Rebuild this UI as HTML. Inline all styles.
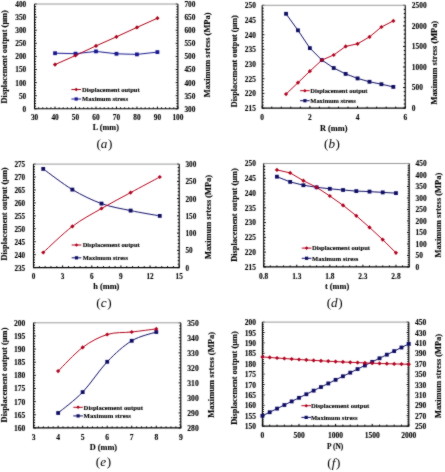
<!DOCTYPE html>
<html><head><meta charset="utf-8"><style>
html,body{margin:0;padding:0;background:#fff;}
svg{display:block;will-change:transform;}
</style></head><body>
<svg width="445" height="472" viewBox="0 0 445 472">
<defs><filter id="bl" x="0" y="0" width="445" height="472" filterUnits="userSpaceOnUse"><feConvolveMatrix order="3" kernelMatrix="1 2 1 2 20 2 1 2 1" edgeMode="duplicate"/></filter></defs>
<rect width="445" height="472" fill="#fff"/>
<g filter="url(#bl)">
<path d="M34.55,108.8h2.2 M34.55,106.18h1.5 M34.55,103.56h1.5 M34.55,100.94h1.5 M34.55,98.32h1.5 M34.55,95.7h2.2 M34.55,93.09h1.5 M34.55,90.47h1.5 M34.55,87.85h1.5 M34.55,85.23h1.5 M34.55,82.61h2.2 M34.55,79.99h1.5 M34.55,77.37h1.5 M34.55,74.75h1.5 M34.55,72.13h1.5 M34.55,69.52h2.2 M34.55,66.9h1.5 M34.55,64.28h1.5 M34.55,61.66h1.5 M34.55,59.04h1.5 M34.55,56.42h2.2 M34.55,53.8h1.5 M34.55,51.18h1.5 M34.55,48.56h1.5 M34.55,45.94h1.5 M34.55,43.33h2.2 M34.55,40.71h1.5 M34.55,38.09h1.5 M34.55,35.47h1.5 M34.55,32.85h1.5 M34.55,30.23h2.2 M34.55,27.61h1.5 M34.55,24.99h1.5 M34.55,22.37h1.5 M34.55,19.75h1.5 M34.55,17.13h2.2 M34.55,14.52h1.5 M34.55,11.9h1.5 M34.55,9.28h1.5 M34.55,6.66h1.5 M34.55,4.04h2.2 M177.9,108.8h-2.2 M177.9,106.18h-1.5 M177.9,103.56h-1.5 M177.9,100.94h-1.5 M177.9,98.32h-1.5 M177.9,95.7h-2.2 M177.9,93.09h-1.5 M177.9,90.47h-1.5 M177.9,87.85h-1.5 M177.9,85.23h-1.5 M177.9,82.61h-2.2 M177.9,79.99h-1.5 M177.9,77.37h-1.5 M177.9,74.75h-1.5 M177.9,72.13h-1.5 M177.9,69.52h-2.2 M177.9,66.9h-1.5 M177.9,64.28h-1.5 M177.9,61.66h-1.5 M177.9,59.04h-1.5 M177.9,56.42h-2.2 M177.9,53.8h-1.5 M177.9,51.18h-1.5 M177.9,48.56h-1.5 M177.9,45.94h-1.5 M177.9,43.33h-2.2 M177.9,40.71h-1.5 M177.9,38.09h-1.5 M177.9,35.47h-1.5 M177.9,32.85h-1.5 M177.9,30.23h-2.2 M177.9,27.61h-1.5 M177.9,24.99h-1.5 M177.9,22.37h-1.5 M177.9,19.75h-1.5 M177.9,17.13h-2.2 M177.9,14.52h-1.5 M177.9,11.9h-1.5 M177.9,9.28h-1.5 M177.9,6.66h-1.5 M177.9,4.04h-2.2 M34.55,108.8v-2.2 M38.65,108.8v-1.5 M42.74,108.8v-1.5 M46.84,108.8v-1.5 M50.93,108.8v-1.5 M55.03,108.8v-2.2 M59.12,108.8v-1.5 M63.22,108.8v-1.5 M67.32,108.8v-1.5 M71.41,108.8v-1.5 M75.51,108.8v-2.2 M79.6,108.8v-1.5 M83.7,108.8v-1.5 M87.79,108.8v-1.5 M91.89,108.8v-1.5 M95.99,108.8v-2.2 M100.08,108.8v-1.5 M104.18,108.8v-1.5 M108.27,108.8v-1.5 M112.37,108.8v-1.5 M116.46,108.8v-2.2 M120.56,108.8v-1.5 M124.66,108.8v-1.5 M128.75,108.8v-1.5 M132.85,108.8v-1.5 M136.94,108.8v-2.2 M141.04,108.8v-1.5 M145.13,108.8v-1.5 M149.23,108.8v-1.5 M153.33,108.8v-1.5 M157.42,108.8v-2.2 M161.52,108.8v-1.5 M165.61,108.8v-1.5 M169.71,108.8v-1.5 M173.8,108.8v-1.5 M177.9,108.8v-2.2" stroke="#000" stroke-width="1.0" fill="none"/>
<path d="M34.55,4.04H177.9" stroke="#999" stroke-width="1" fill="none"/>
<path d="M34.55,4.04V108.8H177.9V4.04" stroke="#000" stroke-width="1.1" fill="none"/>
<text transform="translate(26.2,111.7) scale(1,1.0)" text-anchor="end" style="font-family:'Liberation Serif',serif;font-weight:bold;font-size:7.3px;stroke:#000;stroke-width:0.12px">0</text>
<text transform="translate(26.2,98.61) scale(1,1.0)" text-anchor="end" style="font-family:'Liberation Serif',serif;font-weight:bold;font-size:7.3px;stroke:#000;stroke-width:0.12px">50</text>
<text transform="translate(26.2,85.51) scale(1,1.0)" text-anchor="end" style="font-family:'Liberation Serif',serif;font-weight:bold;font-size:7.3px;stroke:#000;stroke-width:0.12px">100</text>
<text transform="translate(26.2,72.42) scale(1,1.0)" text-anchor="end" style="font-family:'Liberation Serif',serif;font-weight:bold;font-size:7.3px;stroke:#000;stroke-width:0.12px">150</text>
<text transform="translate(26.2,59.32) scale(1,1.0)" text-anchor="end" style="font-family:'Liberation Serif',serif;font-weight:bold;font-size:7.3px;stroke:#000;stroke-width:0.12px">200</text>
<text transform="translate(26.2,46.23) scale(1,1.0)" text-anchor="end" style="font-family:'Liberation Serif',serif;font-weight:bold;font-size:7.3px;stroke:#000;stroke-width:0.12px">250</text>
<text transform="translate(26.2,33.13) scale(1,1.0)" text-anchor="end" style="font-family:'Liberation Serif',serif;font-weight:bold;font-size:7.3px;stroke:#000;stroke-width:0.12px">300</text>
<text transform="translate(26.2,20.03) scale(1,1.0)" text-anchor="end" style="font-family:'Liberation Serif',serif;font-weight:bold;font-size:7.3px;stroke:#000;stroke-width:0.12px">350</text>
<text transform="translate(26.2,6.94) scale(1,1.0)" text-anchor="end" style="font-family:'Liberation Serif',serif;font-weight:bold;font-size:7.3px;stroke:#000;stroke-width:0.12px">400</text>
<text transform="translate(184.4,111.7) scale(1,1.0)" text-anchor="start" style="font-family:'Liberation Serif',serif;font-weight:bold;font-size:7.3px;stroke:#000;stroke-width:0.12px">300</text>
<text transform="translate(184.4,98.61) scale(1,1.0)" text-anchor="start" style="font-family:'Liberation Serif',serif;font-weight:bold;font-size:7.3px;stroke:#000;stroke-width:0.12px">350</text>
<text transform="translate(184.4,85.51) scale(1,1.0)" text-anchor="start" style="font-family:'Liberation Serif',serif;font-weight:bold;font-size:7.3px;stroke:#000;stroke-width:0.12px">400</text>
<text transform="translate(184.4,72.42) scale(1,1.0)" text-anchor="start" style="font-family:'Liberation Serif',serif;font-weight:bold;font-size:7.3px;stroke:#000;stroke-width:0.12px">450</text>
<text transform="translate(184.4,59.32) scale(1,1.0)" text-anchor="start" style="font-family:'Liberation Serif',serif;font-weight:bold;font-size:7.3px;stroke:#000;stroke-width:0.12px">500</text>
<text transform="translate(184.4,46.23) scale(1,1.0)" text-anchor="start" style="font-family:'Liberation Serif',serif;font-weight:bold;font-size:7.3px;stroke:#000;stroke-width:0.12px">550</text>
<text transform="translate(184.4,33.13) scale(1,1.0)" text-anchor="start" style="font-family:'Liberation Serif',serif;font-weight:bold;font-size:7.3px;stroke:#000;stroke-width:0.12px">600</text>
<text transform="translate(184.4,20.03) scale(1,1.0)" text-anchor="start" style="font-family:'Liberation Serif',serif;font-weight:bold;font-size:7.3px;stroke:#000;stroke-width:0.12px">650</text>
<text transform="translate(184.4,6.94) scale(1,1.0)" text-anchor="start" style="font-family:'Liberation Serif',serif;font-weight:bold;font-size:7.3px;stroke:#000;stroke-width:0.12px">700</text>
<text transform="translate(34.55,120.2) scale(1,1.0)" text-anchor="middle" style="font-family:'Liberation Serif',serif;font-weight:bold;font-size:7.3px;stroke:#000;stroke-width:0.12px">30</text>
<text transform="translate(55.03,120.2) scale(1,1.0)" text-anchor="middle" style="font-family:'Liberation Serif',serif;font-weight:bold;font-size:7.3px;stroke:#000;stroke-width:0.12px">40</text>
<text transform="translate(75.51,120.2) scale(1,1.0)" text-anchor="middle" style="font-family:'Liberation Serif',serif;font-weight:bold;font-size:7.3px;stroke:#000;stroke-width:0.12px">50</text>
<text transform="translate(95.99,120.2) scale(1,1.0)" text-anchor="middle" style="font-family:'Liberation Serif',serif;font-weight:bold;font-size:7.3px;stroke:#000;stroke-width:0.12px">60</text>
<text transform="translate(116.46,120.2) scale(1,1.0)" text-anchor="middle" style="font-family:'Liberation Serif',serif;font-weight:bold;font-size:7.3px;stroke:#000;stroke-width:0.12px">70</text>
<text transform="translate(136.94,120.2) scale(1,1.0)" text-anchor="middle" style="font-family:'Liberation Serif',serif;font-weight:bold;font-size:7.3px;stroke:#000;stroke-width:0.12px">80</text>
<text transform="translate(157.42,120.2) scale(1,1.0)" text-anchor="middle" style="font-family:'Liberation Serif',serif;font-weight:bold;font-size:7.3px;stroke:#000;stroke-width:0.12px">90</text>
<text transform="translate(177.9,120.2) scale(1,1.0)" text-anchor="middle" style="font-family:'Liberation Serif',serif;font-weight:bold;font-size:7.3px;stroke:#000;stroke-width:0.12px">100</text>
<text transform="translate(6.94,56.8) rotate(-90)" text-anchor="middle" style="font-family:'Liberation Serif',serif;font-weight:bold;font-size:8.36px;stroke:#000;stroke-width:0.12px">Displacement output (&#956;m)</text>
<text transform="translate(210.35,54.85) rotate(-90)" text-anchor="middle" style="font-family:'Liberation Serif',serif;font-weight:bold;font-size:8.43px;stroke:#000;stroke-width:0.12px">Maximum srtess (MPa)</text>
<text x="105.8" y="130.1" text-anchor="middle" style="font-family:'Liberation Serif',serif;font-weight:bold;font-size:8.2px;stroke:#000;stroke-width:0.12px">L (mm)</text>
<text x="104.4" y="148.45" text-anchor="middle" style="font-family:'Liberation Serif',serif;font-size:13.2px"><tspan>(</tspan><tspan style="font-style:italic">a</tspan><tspan dx="0.6">)</tspan></text>
<path d="M55.03,53.2 L75.51,53.7 L95.99,51.4 L116.46,53.8 L136.94,54.4 L157.42,52.1" stroke="#18188e" stroke-width="1.0" fill="none" stroke-linejoin="round"/>
<path d="M55.03,64.6 L75.51,55.5 L95.99,45.9 L116.46,36.8 L136.94,27.4 L157.42,18.2" stroke="#a80018" stroke-width="1.0" fill="none" stroke-linejoin="round"/>
<rect x="53.13" y="51.3" width="3.8" height="3.8" fill="#18188e"/>
<rect x="73.61" y="51.8" width="3.8" height="3.8" fill="#18188e"/>
<rect x="94.09" y="49.5" width="3.8" height="3.8" fill="#18188e"/>
<rect x="114.56" y="51.9" width="3.8" height="3.8" fill="#18188e"/>
<rect x="135.04" y="52.5" width="3.8" height="3.8" fill="#18188e"/>
<rect x="155.52" y="50.2" width="3.8" height="3.8" fill="#18188e"/>
<path d="M55.03,62.5 L57.13,64.6 L55.03,66.7 L52.93,64.6 Z" fill="#a80018"/>
<path d="M75.51,53.4 L77.61,55.5 L75.51,57.6 L73.41,55.5 Z" fill="#a80018"/>
<path d="M95.99,43.8 L98.09,45.9 L95.99,48 L93.89,45.9 Z" fill="#a80018"/>
<path d="M116.46,34.7 L118.56,36.8 L116.46,38.9 L114.36,36.8 Z" fill="#a80018"/>
<path d="M136.94,25.3 L139.04,27.4 L136.94,29.5 L134.84,27.4 Z" fill="#a80018"/>
<path d="M157.42,16.1 L159.52,18.2 L157.42,20.3 L155.32,18.2 Z" fill="#a80018"/>
<path d="M71.4,89.5h9.6" stroke="#a80018" stroke-width="1.0"/>
<path d="M76.2,87.7 L78,89.5 L76.2,91.3 L74.4,89.5 Z" fill="#a80018"/>
<path d="M71.4,99h9.6" stroke="#18188e" stroke-width="1.0"/>
<rect x="74.6" y="97.4" width="3.2" height="3.2" fill="#18188e"/>
<text x="82" y="91.8" style="font-family:'Liberation Serif',serif;font-weight:bold;font-size:6.5px;stroke:#000;stroke-width:0.12px">Displacement output</text>
<text x="82" y="101.3" style="font-family:'Liberation Serif',serif;font-weight:bold;font-size:6.5px;stroke:#000;stroke-width:0.12px">Maximum stress</text>
<path d="M262.2,108.1h2.2 M262.2,105.16h1.5 M262.2,102.23h1.5 M262.2,99.29h1.5 M262.2,96.35h1.5 M262.2,93.41h2.2 M262.2,90.48h1.5 M262.2,87.54h1.5 M262.2,84.6h1.5 M262.2,81.67h1.5 M262.2,78.73h2.2 M262.2,75.79h1.5 M262.2,72.85h1.5 M262.2,69.92h1.5 M262.2,66.98h1.5 M262.2,64.04h2.2 M262.2,61.11h1.5 M262.2,58.17h1.5 M262.2,55.23h1.5 M262.2,52.29h1.5 M262.2,49.36h2.2 M262.2,46.42h1.5 M262.2,43.48h1.5 M262.2,40.55h1.5 M262.2,37.61h1.5 M262.2,34.67h2.2 M262.2,31.73h1.5 M262.2,28.8h1.5 M262.2,25.86h1.5 M262.2,22.92h1.5 M262.2,19.99h2.2 M262.2,17.05h1.5 M262.2,14.11h1.5 M262.2,11.17h1.5 M262.2,8.24h1.5 M262.2,5.3h2.2 M405.25,108.1h-2.2 M405.25,103.99h-1.5 M405.25,99.88h-1.5 M405.25,95.76h-1.5 M405.25,91.65h-1.5 M405.25,87.54h-2.2 M405.25,83.43h-1.5 M405.25,79.32h-1.5 M405.25,75.2h-1.5 M405.25,71.09h-1.5 M405.25,66.98h-2.2 M405.25,62.87h-1.5 M405.25,58.76h-1.5 M405.25,54.64h-1.5 M405.25,50.53h-1.5 M405.25,46.42h-2.2 M405.25,42.31h-1.5 M405.25,38.2h-1.5 M405.25,34.08h-1.5 M405.25,29.97h-1.5 M405.25,25.86h-2.2 M405.25,21.75h-1.5 M405.25,17.64h-1.5 M405.25,13.52h-1.5 M405.25,9.41h-1.5 M405.25,5.3h-2.2 M262.2,108.1v-2.2 M271.74,108.1v-1.5 M281.27,108.1v-1.5 M290.81,108.1v-1.5 M300.35,108.1v-1.5 M309.88,108.1v-2.2 M319.42,108.1v-1.5 M328.96,108.1v-1.5 M338.49,108.1v-1.5 M348.03,108.1v-1.5 M357.57,108.1v-2.2 M367.1,108.1v-1.5 M376.64,108.1v-1.5 M386.18,108.1v-1.5 M395.71,108.1v-1.5 M405.25,108.1v-2.2" stroke="#000" stroke-width="1.0" fill="none"/>
<path d="M262.2,5.3H405.25" stroke="#999" stroke-width="1" fill="none"/>
<path d="M262.2,5.3V108.1H405.25V5.3" stroke="#000" stroke-width="1.1" fill="none"/>
<text transform="translate(255.9,111) scale(1,1.0)" text-anchor="end" style="font-family:'Liberation Serif',serif;font-weight:bold;font-size:7.4px;stroke:#000;stroke-width:0.12px">215</text>
<text transform="translate(255.9,96.31) scale(1,1.0)" text-anchor="end" style="font-family:'Liberation Serif',serif;font-weight:bold;font-size:7.4px;stroke:#000;stroke-width:0.12px">220</text>
<text transform="translate(255.9,81.63) scale(1,1.0)" text-anchor="end" style="font-family:'Liberation Serif',serif;font-weight:bold;font-size:7.4px;stroke:#000;stroke-width:0.12px">225</text>
<text transform="translate(255.9,66.94) scale(1,1.0)" text-anchor="end" style="font-family:'Liberation Serif',serif;font-weight:bold;font-size:7.4px;stroke:#000;stroke-width:0.12px">230</text>
<text transform="translate(255.9,52.26) scale(1,1.0)" text-anchor="end" style="font-family:'Liberation Serif',serif;font-weight:bold;font-size:7.4px;stroke:#000;stroke-width:0.12px">235</text>
<text transform="translate(255.9,37.57) scale(1,1.0)" text-anchor="end" style="font-family:'Liberation Serif',serif;font-weight:bold;font-size:7.4px;stroke:#000;stroke-width:0.12px">240</text>
<text transform="translate(255.9,22.89) scale(1,1.0)" text-anchor="end" style="font-family:'Liberation Serif',serif;font-weight:bold;font-size:7.4px;stroke:#000;stroke-width:0.12px">245</text>
<text transform="translate(255.9,8.2) scale(1,1.0)" text-anchor="end" style="font-family:'Liberation Serif',serif;font-weight:bold;font-size:7.4px;stroke:#000;stroke-width:0.12px">250</text>
<text transform="translate(411.8,111) scale(1,1.0)" text-anchor="start" style="font-family:'Liberation Serif',serif;font-weight:bold;font-size:7.4px;stroke:#000;stroke-width:0.12px">0</text>
<text transform="translate(411.8,90.44) scale(1,1.0)" text-anchor="start" style="font-family:'Liberation Serif',serif;font-weight:bold;font-size:7.4px;stroke:#000;stroke-width:0.12px">500</text>
<text transform="translate(411.8,69.88) scale(1,1.0)" text-anchor="start" style="font-family:'Liberation Serif',serif;font-weight:bold;font-size:7.4px;stroke:#000;stroke-width:0.12px">1000</text>
<text transform="translate(411.8,49.32) scale(1,1.0)" text-anchor="start" style="font-family:'Liberation Serif',serif;font-weight:bold;font-size:7.4px;stroke:#000;stroke-width:0.12px">1500</text>
<text transform="translate(411.8,28.76) scale(1,1.0)" text-anchor="start" style="font-family:'Liberation Serif',serif;font-weight:bold;font-size:7.4px;stroke:#000;stroke-width:0.12px">2000</text>
<text transform="translate(411.8,8.2) scale(1,1.0)" text-anchor="start" style="font-family:'Liberation Serif',serif;font-weight:bold;font-size:7.4px;stroke:#000;stroke-width:0.12px">2500</text>
<text transform="translate(262.2,120) scale(1,1.0)" text-anchor="middle" style="font-family:'Liberation Serif',serif;font-weight:bold;font-size:7.4px;stroke:#000;stroke-width:0.12px">0</text>
<text transform="translate(309.88,120) scale(1,1.0)" text-anchor="middle" style="font-family:'Liberation Serif',serif;font-weight:bold;font-size:7.4px;stroke:#000;stroke-width:0.12px">2</text>
<text transform="translate(357.57,120) scale(1,1.0)" text-anchor="middle" style="font-family:'Liberation Serif',serif;font-weight:bold;font-size:7.4px;stroke:#000;stroke-width:0.12px">4</text>
<text transform="translate(405.25,120) scale(1,1.0)" text-anchor="middle" style="font-family:'Liberation Serif',serif;font-weight:bold;font-size:7.4px;stroke:#000;stroke-width:0.12px">6</text>
<text transform="translate(236.5,61.25) rotate(-90)" text-anchor="middle" style="font-family:'Liberation Serif',serif;font-weight:bold;font-size:8.24px;stroke:#000;stroke-width:0.12px">Displacement output (&#956;m)</text>
<text transform="translate(436.9,62.7) rotate(-90)" text-anchor="middle" style="font-family:'Liberation Serif',serif;font-weight:bold;font-size:8.34px;stroke:#000;stroke-width:0.12px">Maximum stress (MPa)</text>
<text x="333.7" y="130.6" text-anchor="middle" style="font-family:'Liberation Serif',serif;font-weight:bold;font-size:8.3px;stroke:#000;stroke-width:0.12px">R (mm)</text>
<text x="332" y="148.25" text-anchor="middle" style="font-family:'Liberation Serif',serif;font-size:13.2px"><tspan>(</tspan><tspan style="font-style:italic">b</tspan><tspan dx="0.6">)</tspan></text>
<path d="M286.04,13.8 L297.96,30.3 L309.88,48.1 L321.8,60 L333.73,68 L345.65,73.9 L357.57,78.4 L369.49,81.8 L381.41,84.2 L393.33,86.9" stroke="#0e0c64" stroke-width="1.0" fill="none" stroke-linejoin="round"/>
<path d="M286.04,94.1 L297.96,82.7 L309.88,71.2 L321.8,60.1 L333.73,55 L345.65,46.4 L357.57,43.8 L369.49,36.9 L381.41,27 L393.33,20.9" stroke="#b0001e" stroke-width="1.0" fill="none" stroke-linejoin="round"/>
<rect x="284.14" y="11.9" width="3.8" height="3.8" fill="#0e0c64"/>
<rect x="296.06" y="28.4" width="3.8" height="3.8" fill="#0e0c64"/>
<rect x="307.98" y="46.2" width="3.8" height="3.8" fill="#0e0c64"/>
<rect x="319.9" y="58.1" width="3.8" height="3.8" fill="#0e0c64"/>
<rect x="331.83" y="66.1" width="3.8" height="3.8" fill="#0e0c64"/>
<rect x="343.75" y="72" width="3.8" height="3.8" fill="#0e0c64"/>
<rect x="355.67" y="76.5" width="3.8" height="3.8" fill="#0e0c64"/>
<rect x="367.59" y="79.9" width="3.8" height="3.8" fill="#0e0c64"/>
<rect x="379.51" y="82.3" width="3.8" height="3.8" fill="#0e0c64"/>
<rect x="391.43" y="85" width="3.8" height="3.8" fill="#0e0c64"/>
<path d="M286.04,92 L288.14,94.1 L286.04,96.2 L283.94,94.1 Z" fill="#b0001e"/>
<path d="M297.96,80.6 L300.06,82.7 L297.96,84.8 L295.86,82.7 Z" fill="#b0001e"/>
<path d="M309.88,69.1 L311.98,71.2 L309.88,73.3 L307.78,71.2 Z" fill="#b0001e"/>
<path d="M321.8,58 L323.9,60.1 L321.8,62.2 L319.7,60.1 Z" fill="#b0001e"/>
<path d="M333.73,52.9 L335.83,55 L333.73,57.1 L331.62,55 Z" fill="#b0001e"/>
<path d="M345.65,44.3 L347.75,46.4 L345.65,48.5 L343.55,46.4 Z" fill="#b0001e"/>
<path d="M357.57,41.7 L359.67,43.8 L357.57,45.9 L355.47,43.8 Z" fill="#b0001e"/>
<path d="M369.49,34.8 L371.59,36.9 L369.49,39 L367.39,36.9 Z" fill="#b0001e"/>
<path d="M381.41,24.9 L383.51,27 L381.41,29.1 L379.31,27 Z" fill="#b0001e"/>
<path d="M393.33,18.8 L395.43,20.9 L393.33,23 L391.23,20.9 Z" fill="#b0001e"/>
<path d="M300.1,90.7h9.6" stroke="#b0001e" stroke-width="1.0"/>
<path d="M304.9,88.9 L306.7,90.7 L304.9,92.5 L303.1,90.7 Z" fill="#b0001e"/>
<path d="M300.1,100.7h9.6" stroke="#0e0c64" stroke-width="1.0"/>
<rect x="303.3" y="99.1" width="3.2" height="3.2" fill="#0e0c64"/>
<text x="310.3" y="93" style="font-family:'Liberation Serif',serif;font-weight:bold;font-size:6.46px;stroke:#000;stroke-width:0.12px">Displacement output</text>
<text x="310.3" y="103" style="font-family:'Liberation Serif',serif;font-weight:bold;font-size:6.46px;stroke:#000;stroke-width:0.12px">Maximum stress</text>
<path d="M33.5,267.6h2.2 M33.5,265.01h1.5 M33.5,262.43h1.5 M33.5,259.84h1.5 M33.5,257.25h1.5 M33.5,254.66h2.2 M33.5,252.08h1.5 M33.5,249.49h1.5 M33.5,246.9h1.5 M33.5,244.31h1.5 M33.5,241.73h2.2 M33.5,239.14h1.5 M33.5,236.55h1.5 M33.5,233.96h1.5 M33.5,231.38h1.5 M33.5,228.79h2.2 M33.5,226.2h1.5 M33.5,223.61h1.5 M33.5,221.03h1.5 M33.5,218.44h1.5 M33.5,215.85h2.2 M33.5,213.26h1.5 M33.5,210.68h1.5 M33.5,208.09h1.5 M33.5,205.5h1.5 M33.5,202.91h2.2 M33.5,200.32h1.5 M33.5,197.74h1.5 M33.5,195.15h1.5 M33.5,192.56h1.5 M33.5,189.97h2.2 M33.5,187.39h1.5 M33.5,184.8h1.5 M33.5,182.21h1.5 M33.5,179.62h1.5 M33.5,177.04h2.2 M33.5,174.45h1.5 M33.5,171.86h1.5 M33.5,169.28h1.5 M33.5,166.69h1.5 M33.5,164.1h2.2 M179.2,267.6h-2.2 M179.2,264.15h-1.5 M179.2,260.7h-1.5 M179.2,257.25h-1.5 M179.2,253.8h-1.5 M179.2,250.35h-2.2 M179.2,246.9h-1.5 M179.2,243.45h-1.5 M179.2,240h-1.5 M179.2,236.55h-1.5 M179.2,233.1h-2.2 M179.2,229.65h-1.5 M179.2,226.2h-1.5 M179.2,222.75h-1.5 M179.2,219.3h-1.5 M179.2,215.85h-2.2 M179.2,212.4h-1.5 M179.2,208.95h-1.5 M179.2,205.5h-1.5 M179.2,202.05h-1.5 M179.2,198.6h-2.2 M179.2,195.15h-1.5 M179.2,191.7h-1.5 M179.2,188.25h-1.5 M179.2,184.8h-1.5 M179.2,181.35h-2.2 M179.2,177.9h-1.5 M179.2,174.45h-1.5 M179.2,171h-1.5 M179.2,167.55h-1.5 M179.2,164.1h-2.2 M33.5,267.6v-2.2 M39.33,267.6v-1.5 M45.16,267.6v-1.5 M50.98,267.6v-1.5 M56.81,267.6v-1.5 M62.64,267.6v-2.2 M68.47,267.6v-1.5 M74.3,267.6v-1.5 M80.12,267.6v-1.5 M85.95,267.6v-1.5 M91.78,267.6v-2.2 M97.61,267.6v-1.5 M103.44,267.6v-1.5 M109.26,267.6v-1.5 M115.09,267.6v-1.5 M120.92,267.6v-2.2 M126.75,267.6v-1.5 M132.58,267.6v-1.5 M138.4,267.6v-1.5 M144.23,267.6v-1.5 M150.06,267.6v-2.2 M155.89,267.6v-1.5 M161.72,267.6v-1.5 M167.54,267.6v-1.5 M173.37,267.6v-1.5 M179.2,267.6v-2.2" stroke="#000" stroke-width="1.0" fill="none"/>
<path d="M33.5,164.1H179.2" stroke="#999" stroke-width="1" fill="none"/>
<path d="M33.5,164.1V267.6H179.2V164.1" stroke="#000" stroke-width="1.1" fill="none"/>
<text transform="translate(25.2,270.5) scale(1,1.0)" text-anchor="end" style="font-family:'Liberation Serif',serif;font-weight:bold;font-size:7.2px;stroke:#000;stroke-width:0.12px">235</text>
<text transform="translate(25.2,257.56) scale(1,1.0)" text-anchor="end" style="font-family:'Liberation Serif',serif;font-weight:bold;font-size:7.2px;stroke:#000;stroke-width:0.12px">240</text>
<text transform="translate(25.2,244.63) scale(1,1.0)" text-anchor="end" style="font-family:'Liberation Serif',serif;font-weight:bold;font-size:7.2px;stroke:#000;stroke-width:0.12px">245</text>
<text transform="translate(25.2,231.69) scale(1,1.0)" text-anchor="end" style="font-family:'Liberation Serif',serif;font-weight:bold;font-size:7.2px;stroke:#000;stroke-width:0.12px">250</text>
<text transform="translate(25.2,218.75) scale(1,1.0)" text-anchor="end" style="font-family:'Liberation Serif',serif;font-weight:bold;font-size:7.2px;stroke:#000;stroke-width:0.12px">255</text>
<text transform="translate(25.2,205.81) scale(1,1.0)" text-anchor="end" style="font-family:'Liberation Serif',serif;font-weight:bold;font-size:7.2px;stroke:#000;stroke-width:0.12px">260</text>
<text transform="translate(25.2,192.88) scale(1,1.0)" text-anchor="end" style="font-family:'Liberation Serif',serif;font-weight:bold;font-size:7.2px;stroke:#000;stroke-width:0.12px">265</text>
<text transform="translate(25.2,179.94) scale(1,1.0)" text-anchor="end" style="font-family:'Liberation Serif',serif;font-weight:bold;font-size:7.2px;stroke:#000;stroke-width:0.12px">270</text>
<text transform="translate(25.2,167) scale(1,1.0)" text-anchor="end" style="font-family:'Liberation Serif',serif;font-weight:bold;font-size:7.2px;stroke:#000;stroke-width:0.12px">275</text>
<text transform="translate(185.5,270.5) scale(1,1.0)" text-anchor="start" style="font-family:'Liberation Serif',serif;font-weight:bold;font-size:7.2px;stroke:#000;stroke-width:0.12px">0</text>
<text transform="translate(185.5,253.25) scale(1,1.0)" text-anchor="start" style="font-family:'Liberation Serif',serif;font-weight:bold;font-size:7.2px;stroke:#000;stroke-width:0.12px">50</text>
<text transform="translate(185.5,236) scale(1,1.0)" text-anchor="start" style="font-family:'Liberation Serif',serif;font-weight:bold;font-size:7.2px;stroke:#000;stroke-width:0.12px">100</text>
<text transform="translate(185.5,218.75) scale(1,1.0)" text-anchor="start" style="font-family:'Liberation Serif',serif;font-weight:bold;font-size:7.2px;stroke:#000;stroke-width:0.12px">150</text>
<text transform="translate(185.5,201.5) scale(1,1.0)" text-anchor="start" style="font-family:'Liberation Serif',serif;font-weight:bold;font-size:7.2px;stroke:#000;stroke-width:0.12px">200</text>
<text transform="translate(185.5,184.25) scale(1,1.0)" text-anchor="start" style="font-family:'Liberation Serif',serif;font-weight:bold;font-size:7.2px;stroke:#000;stroke-width:0.12px">250</text>
<text transform="translate(185.5,167) scale(1,1.0)" text-anchor="start" style="font-family:'Liberation Serif',serif;font-weight:bold;font-size:7.2px;stroke:#000;stroke-width:0.12px">300</text>
<text transform="translate(33.5,279.2) scale(1,1.0)" text-anchor="middle" style="font-family:'Liberation Serif',serif;font-weight:bold;font-size:7.2px;stroke:#000;stroke-width:0.12px">0</text>
<text transform="translate(62.64,279.2) scale(1,1.0)" text-anchor="middle" style="font-family:'Liberation Serif',serif;font-weight:bold;font-size:7.2px;stroke:#000;stroke-width:0.12px">3</text>
<text transform="translate(91.78,279.2) scale(1,1.0)" text-anchor="middle" style="font-family:'Liberation Serif',serif;font-weight:bold;font-size:7.2px;stroke:#000;stroke-width:0.12px">6</text>
<text transform="translate(120.92,279.2) scale(1,1.0)" text-anchor="middle" style="font-family:'Liberation Serif',serif;font-weight:bold;font-size:7.2px;stroke:#000;stroke-width:0.12px">9</text>
<text transform="translate(150.06,279.2) scale(1,1.0)" text-anchor="middle" style="font-family:'Liberation Serif',serif;font-weight:bold;font-size:7.2px;stroke:#000;stroke-width:0.12px">12</text>
<text transform="translate(179.2,279.2) scale(1,1.0)" text-anchor="middle" style="font-family:'Liberation Serif',serif;font-weight:bold;font-size:7.2px;stroke:#000;stroke-width:0.12px">15</text>
<text transform="translate(6.93,213.95) rotate(-90)" text-anchor="middle" style="font-family:'Liberation Serif',serif;font-weight:bold;font-size:8.33px;stroke:#000;stroke-width:0.12px">Displacement output (&#956;m)</text>
<text transform="translate(210.8,217) rotate(-90)" text-anchor="middle" style="font-family:'Liberation Serif',serif;font-weight:bold;font-size:8.36px;stroke:#000;stroke-width:0.12px">Maximum srtess (MPa)</text>
<text x="106.3" y="289" text-anchor="middle" style="font-family:'Liberation Serif',serif;font-weight:bold;font-size:8.35px;stroke:#000;stroke-width:0.12px">h (mm)</text>
<text x="103.9" y="307.25" text-anchor="middle" style="font-family:'Liberation Serif',serif;font-size:13.2px"><tspan>(</tspan><tspan style="font-style:italic">c</tspan><tspan dx="0.6">)</tspan></text>
<path d="M43.21,168.9 C48.07,172.35 62.64,183.82 72.35,189.6 C82.07,195.38 91.78,200.1 101.49,203.6 C111.21,207.1 120.92,208.55 130.63,210.6 C140.35,212.65 154.92,215.02 159.77,215.9" stroke="#0e0c64" stroke-width="1.0" fill="none"/>
<path d="M43.21,252.5 C48.07,248.15 62.64,233.73 72.35,226.4 C82.07,219.07 91.78,214.13 101.49,208.5 C111.21,202.87 120.92,197.85 130.63,192.6 C140.35,187.35 154.92,179.6 159.77,177" stroke="#b0001e" stroke-width="1.0" fill="none"/>
<rect x="41.31" y="167" width="3.8" height="3.8" fill="#0e0c64"/>
<rect x="70.45" y="187.7" width="3.8" height="3.8" fill="#0e0c64"/>
<rect x="99.59" y="201.7" width="3.8" height="3.8" fill="#0e0c64"/>
<rect x="128.73" y="208.7" width="3.8" height="3.8" fill="#0e0c64"/>
<rect x="157.87" y="214" width="3.8" height="3.8" fill="#0e0c64"/>
<path d="M43.21,250.4 L45.31,252.5 L43.21,254.6 L41.11,252.5 Z" fill="#b0001e"/>
<path d="M72.35,224.3 L74.45,226.4 L72.35,228.5 L70.25,226.4 Z" fill="#b0001e"/>
<path d="M101.49,206.4 L103.59,208.5 L101.49,210.6 L99.39,208.5 Z" fill="#b0001e"/>
<path d="M130.63,190.5 L132.73,192.6 L130.63,194.7 L128.53,192.6 Z" fill="#b0001e"/>
<path d="M159.77,174.9 L161.87,177 L159.77,179.1 L157.67,177 Z" fill="#b0001e"/>
<path d="M71.7,245h9.6" stroke="#b0001e" stroke-width="1.0"/>
<path d="M76.5,243.2 L78.3,245 L76.5,246.8 L74.7,245 Z" fill="#b0001e"/>
<path d="M71.7,257.8h9.6" stroke="#0e0c64" stroke-width="1.0"/>
<rect x="74.9" y="256.2" width="3.2" height="3.2" fill="#0e0c64"/>
<text x="82.7" y="247.3" style="font-family:'Liberation Serif',serif;font-weight:bold;font-size:6.43px;stroke:#000;stroke-width:0.12px">Displacement output</text>
<text x="82.7" y="260.1" style="font-family:'Liberation Serif',serif;font-weight:bold;font-size:6.43px;stroke:#000;stroke-width:0.12px">Maximum stress</text>
<path d="M263.7,266.9h2.2 M263.7,263.95h1.5 M263.7,260.99h1.5 M263.7,258.04h1.5 M263.7,255.08h1.5 M263.7,252.13h2.2 M263.7,249.17h1.5 M263.7,246.22h1.5 M263.7,243.27h1.5 M263.7,240.31h1.5 M263.7,237.36h2.2 M263.7,234.4h1.5 M263.7,231.45h1.5 M263.7,228.49h1.5 M263.7,225.54h1.5 M263.7,222.59h2.2 M263.7,219.63h1.5 M263.7,216.68h1.5 M263.7,213.72h1.5 M263.7,210.77h1.5 M263.7,207.81h2.2 M263.7,204.86h1.5 M263.7,201.91h1.5 M263.7,198.95h1.5 M263.7,196h1.5 M263.7,193.04h2.2 M263.7,190.09h1.5 M263.7,187.13h1.5 M263.7,184.18h1.5 M263.7,181.23h1.5 M263.7,178.27h2.2 M263.7,175.32h1.5 M263.7,172.36h1.5 M263.7,169.41h1.5 M263.7,166.45h1.5 M263.7,163.5h2.2 M409.2,266.9h-2.2 M409.2,264.6h-1.5 M409.2,262.3h-1.5 M409.2,260.01h-1.5 M409.2,257.71h-1.5 M409.2,255.41h-2.2 M409.2,253.11h-1.5 M409.2,250.82h-1.5 M409.2,248.52h-1.5 M409.2,246.22h-1.5 M409.2,243.92h-2.2 M409.2,241.62h-1.5 M409.2,239.33h-1.5 M409.2,237.03h-1.5 M409.2,234.73h-1.5 M409.2,232.43h-2.2 M409.2,230.14h-1.5 M409.2,227.84h-1.5 M409.2,225.54h-1.5 M409.2,223.24h-1.5 M409.2,220.94h-2.2 M409.2,218.65h-1.5 M409.2,216.35h-1.5 M409.2,214.05h-1.5 M409.2,211.75h-1.5 M409.2,209.46h-2.2 M409.2,207.16h-1.5 M409.2,204.86h-1.5 M409.2,202.56h-1.5 M409.2,200.26h-1.5 M409.2,197.97h-2.2 M409.2,195.67h-1.5 M409.2,193.37h-1.5 M409.2,191.07h-1.5 M409.2,188.78h-1.5 M409.2,186.48h-2.2 M409.2,184.18h-1.5 M409.2,181.88h-1.5 M409.2,179.58h-1.5 M409.2,177.29h-1.5 M409.2,174.99h-2.2 M409.2,172.69h-1.5 M409.2,170.39h-1.5 M409.2,168.1h-1.5 M409.2,165.8h-1.5 M409.2,163.5h-2.2 M263.7,266.9v-2.2 M270.31,266.9v-1.5 M276.93,266.9v-1.5 M283.54,266.9v-1.5 M290.15,266.9v-1.5 M296.77,266.9v-2.2 M303.38,266.9v-1.5 M310,266.9v-1.5 M316.61,266.9v-1.5 M323.22,266.9v-1.5 M329.84,266.9v-2.2 M336.45,266.9v-1.5 M343.06,266.9v-1.5 M349.68,266.9v-1.5 M356.29,266.9v-1.5 M362.9,266.9v-2.2 M369.52,266.9v-1.5 M376.13,266.9v-1.5 M382.75,266.9v-1.5 M389.36,266.9v-1.5 M395.97,266.9v-2.2 M402.59,266.9v-1.5 M409.2,266.9v-1.5" stroke="#000" stroke-width="1.0" fill="none"/>
<path d="M263.7,163.5H409.2" stroke="#999" stroke-width="1" fill="none"/>
<path d="M263.7,163.5V266.9H409.2V163.5" stroke="#000" stroke-width="1.1" fill="none"/>
<text transform="translate(255.9,269.8) scale(1,1.0)" text-anchor="end" style="font-family:'Liberation Serif',serif;font-weight:bold;font-size:7.4px;stroke:#000;stroke-width:0.12px">215</text>
<text transform="translate(255.9,255.03) scale(1,1.0)" text-anchor="end" style="font-family:'Liberation Serif',serif;font-weight:bold;font-size:7.4px;stroke:#000;stroke-width:0.12px">220</text>
<text transform="translate(255.9,240.26) scale(1,1.0)" text-anchor="end" style="font-family:'Liberation Serif',serif;font-weight:bold;font-size:7.4px;stroke:#000;stroke-width:0.12px">225</text>
<text transform="translate(255.9,225.49) scale(1,1.0)" text-anchor="end" style="font-family:'Liberation Serif',serif;font-weight:bold;font-size:7.4px;stroke:#000;stroke-width:0.12px">230</text>
<text transform="translate(255.9,210.71) scale(1,1.0)" text-anchor="end" style="font-family:'Liberation Serif',serif;font-weight:bold;font-size:7.4px;stroke:#000;stroke-width:0.12px">235</text>
<text transform="translate(255.9,195.94) scale(1,1.0)" text-anchor="end" style="font-family:'Liberation Serif',serif;font-weight:bold;font-size:7.4px;stroke:#000;stroke-width:0.12px">240</text>
<text transform="translate(255.9,181.17) scale(1,1.0)" text-anchor="end" style="font-family:'Liberation Serif',serif;font-weight:bold;font-size:7.4px;stroke:#000;stroke-width:0.12px">245</text>
<text transform="translate(255.9,166.4) scale(1,1.0)" text-anchor="end" style="font-family:'Liberation Serif',serif;font-weight:bold;font-size:7.4px;stroke:#000;stroke-width:0.12px">250</text>
<text transform="translate(415.6,269.8) scale(1,1.0)" text-anchor="start" style="font-family:'Liberation Serif',serif;font-weight:bold;font-size:7.4px;stroke:#000;stroke-width:0.12px">0</text>
<text transform="translate(415.6,258.31) scale(1,1.0)" text-anchor="start" style="font-family:'Liberation Serif',serif;font-weight:bold;font-size:7.4px;stroke:#000;stroke-width:0.12px">50</text>
<text transform="translate(415.6,246.82) scale(1,1.0)" text-anchor="start" style="font-family:'Liberation Serif',serif;font-weight:bold;font-size:7.4px;stroke:#000;stroke-width:0.12px">100</text>
<text transform="translate(415.6,235.33) scale(1,1.0)" text-anchor="start" style="font-family:'Liberation Serif',serif;font-weight:bold;font-size:7.4px;stroke:#000;stroke-width:0.12px">150</text>
<text transform="translate(415.6,223.84) scale(1,1.0)" text-anchor="start" style="font-family:'Liberation Serif',serif;font-weight:bold;font-size:7.4px;stroke:#000;stroke-width:0.12px">200</text>
<text transform="translate(415.6,212.36) scale(1,1.0)" text-anchor="start" style="font-family:'Liberation Serif',serif;font-weight:bold;font-size:7.4px;stroke:#000;stroke-width:0.12px">250</text>
<text transform="translate(415.6,200.87) scale(1,1.0)" text-anchor="start" style="font-family:'Liberation Serif',serif;font-weight:bold;font-size:7.4px;stroke:#000;stroke-width:0.12px">300</text>
<text transform="translate(415.6,189.38) scale(1,1.0)" text-anchor="start" style="font-family:'Liberation Serif',serif;font-weight:bold;font-size:7.4px;stroke:#000;stroke-width:0.12px">350</text>
<text transform="translate(415.6,177.89) scale(1,1.0)" text-anchor="start" style="font-family:'Liberation Serif',serif;font-weight:bold;font-size:7.4px;stroke:#000;stroke-width:0.12px">400</text>
<text transform="translate(415.6,166.4) scale(1,1.0)" text-anchor="start" style="font-family:'Liberation Serif',serif;font-weight:bold;font-size:7.4px;stroke:#000;stroke-width:0.12px">450</text>
<text transform="translate(263.7,278.9) scale(1,1.0)" text-anchor="middle" style="font-family:'Liberation Serif',serif;font-weight:bold;font-size:7.4px;stroke:#000;stroke-width:0.12px">0.8</text>
<text transform="translate(296.77,278.9) scale(1,1.0)" text-anchor="middle" style="font-family:'Liberation Serif',serif;font-weight:bold;font-size:7.4px;stroke:#000;stroke-width:0.12px">1.3</text>
<text transform="translate(329.84,278.9) scale(1,1.0)" text-anchor="middle" style="font-family:'Liberation Serif',serif;font-weight:bold;font-size:7.4px;stroke:#000;stroke-width:0.12px">1.8</text>
<text transform="translate(362.9,278.9) scale(1,1.0)" text-anchor="middle" style="font-family:'Liberation Serif',serif;font-weight:bold;font-size:7.4px;stroke:#000;stroke-width:0.12px">2.3</text>
<text transform="translate(395.97,278.9) scale(1,1.0)" text-anchor="middle" style="font-family:'Liberation Serif',serif;font-weight:bold;font-size:7.4px;stroke:#000;stroke-width:0.12px">2.8</text>
<text transform="translate(237.35,215) rotate(-90)" text-anchor="middle" style="font-family:'Liberation Serif',serif;font-weight:bold;font-size:8.39px;stroke:#000;stroke-width:0.12px">Displacement output (&#956;m)</text>
<text transform="translate(440.75,215.15) rotate(-90)" text-anchor="middle" style="font-family:'Liberation Serif',serif;font-weight:bold;font-size:8.43px;stroke:#000;stroke-width:0.12px">Maximum srtess (MPa)</text>
<text x="337.1" y="289.3" text-anchor="middle" style="font-family:'Liberation Serif',serif;font-weight:bold;font-size:8.3px;stroke:#000;stroke-width:0.12px">t (mm)</text>
<text x="334.7" y="306.75" text-anchor="middle" style="font-family:'Liberation Serif',serif;font-size:13.2px"><tspan>(</tspan><tspan style="font-style:italic">d</tspan><tspan dx="0.6">)</tspan></text>
<path d="M276.93,176.7 L290.15,181.9 L303.38,185.2 L316.61,187.3 L329.84,188.8 L343.06,190 L356.29,191.1 L369.52,191.6 L382.75,192.4 L395.97,193.1" stroke="#0e0c64" stroke-width="1.0" fill="none" stroke-linejoin="round"/>
<path d="M276.93,169.9 L290.15,172.9 L303.38,180.7 L316.61,187.3 L329.84,196 L343.06,205.3 L356.29,215.8 L369.52,227.4 L382.75,239.7 L395.97,252.8" stroke="#b0001e" stroke-width="1.0" fill="none" stroke-linejoin="round"/>
<rect x="275.03" y="174.8" width="3.8" height="3.8" fill="#0e0c64"/>
<rect x="288.25" y="180" width="3.8" height="3.8" fill="#0e0c64"/>
<rect x="301.48" y="183.3" width="3.8" height="3.8" fill="#0e0c64"/>
<rect x="314.71" y="185.4" width="3.8" height="3.8" fill="#0e0c64"/>
<rect x="327.94" y="186.9" width="3.8" height="3.8" fill="#0e0c64"/>
<rect x="341.16" y="188.1" width="3.8" height="3.8" fill="#0e0c64"/>
<rect x="354.39" y="189.2" width="3.8" height="3.8" fill="#0e0c64"/>
<rect x="367.62" y="189.7" width="3.8" height="3.8" fill="#0e0c64"/>
<rect x="380.85" y="190.5" width="3.8" height="3.8" fill="#0e0c64"/>
<rect x="394.07" y="191.2" width="3.8" height="3.8" fill="#0e0c64"/>
<path d="M276.93,167.8 L279.03,169.9 L276.93,172 L274.83,169.9 Z" fill="#b0001e"/>
<path d="M290.15,170.8 L292.25,172.9 L290.15,175 L288.05,172.9 Z" fill="#b0001e"/>
<path d="M303.38,178.6 L305.48,180.7 L303.38,182.8 L301.28,180.7 Z" fill="#b0001e"/>
<path d="M316.61,185.2 L318.71,187.3 L316.61,189.4 L314.51,187.3 Z" fill="#b0001e"/>
<path d="M329.84,193.9 L331.94,196 L329.84,198.1 L327.74,196 Z" fill="#b0001e"/>
<path d="M343.06,203.2 L345.16,205.3 L343.06,207.4 L340.96,205.3 Z" fill="#b0001e"/>
<path d="M356.29,213.7 L358.39,215.8 L356.29,217.9 L354.19,215.8 Z" fill="#b0001e"/>
<path d="M369.52,225.3 L371.62,227.4 L369.52,229.5 L367.42,227.4 Z" fill="#b0001e"/>
<path d="M382.75,237.6 L384.85,239.7 L382.75,241.8 L380.65,239.7 Z" fill="#b0001e"/>
<path d="M395.97,250.7 L398.07,252.8 L395.97,254.9 L393.87,252.8 Z" fill="#b0001e"/>
<path d="M301.8,248.1h9.6" stroke="#b0001e" stroke-width="1.0"/>
<path d="M306.6,246.3 L308.4,248.1 L306.6,249.9 L304.8,248.1 Z" fill="#b0001e"/>
<path d="M301.8,258.3h9.6" stroke="#0e0c64" stroke-width="1.0"/>
<rect x="305" y="256.7" width="3.2" height="3.2" fill="#0e0c64"/>
<text x="312" y="250.4" style="font-family:'Liberation Serif',serif;font-weight:bold;font-size:6.56px;stroke:#000;stroke-width:0.12px">Displacement output</text>
<text x="312" y="260.6" style="font-family:'Liberation Serif',serif;font-weight:bold;font-size:6.56px;stroke:#000;stroke-width:0.12px">Maximum stress</text>
<path d="M33.6,427.9h2.2 M33.6,425.27h1.5 M33.6,422.64h1.5 M33.6,420.02h1.5 M33.6,417.39h1.5 M33.6,414.76h2.2 M33.6,412.13h1.5 M33.6,409.51h1.5 M33.6,406.88h1.5 M33.6,404.25h1.5 M33.6,401.62h2.2 M33.6,399h1.5 M33.6,396.37h1.5 M33.6,393.74h1.5 M33.6,391.12h1.5 M33.6,388.49h2.2 M33.6,385.86h1.5 M33.6,383.23h1.5 M33.6,380.61h1.5 M33.6,377.98h1.5 M33.6,375.35h2.2 M33.6,372.72h1.5 M33.6,370.09h1.5 M33.6,367.47h1.5 M33.6,364.84h1.5 M33.6,362.21h2.2 M33.6,359.59h1.5 M33.6,356.96h1.5 M33.6,354.33h1.5 M33.6,351.7h1.5 M33.6,349.07h2.2 M33.6,346.45h1.5 M33.6,343.82h1.5 M33.6,341.19h1.5 M33.6,338.56h1.5 M33.6,335.94h2.2 M33.6,333.31h1.5 M33.6,330.68h1.5 M33.6,328.06h1.5 M33.6,325.43h1.5 M33.6,322.8h2.2 M180.8,427.9h-2.2 M180.8,424.9h-1.5 M180.8,421.89h-1.5 M180.8,418.89h-1.5 M180.8,415.89h-1.5 M180.8,412.89h-2.2 M180.8,409.88h-1.5 M180.8,406.88h-1.5 M180.8,403.88h-1.5 M180.8,400.87h-1.5 M180.8,397.87h-2.2 M180.8,394.87h-1.5 M180.8,391.87h-1.5 M180.8,388.86h-1.5 M180.8,385.86h-1.5 M180.8,382.86h-2.2 M180.8,379.85h-1.5 M180.8,376.85h-1.5 M180.8,373.85h-1.5 M180.8,370.85h-1.5 M180.8,367.84h-2.2 M180.8,364.84h-1.5 M180.8,361.84h-1.5 M180.8,358.83h-1.5 M180.8,355.83h-1.5 M180.8,352.83h-2.2 M180.8,349.83h-1.5 M180.8,346.82h-1.5 M180.8,343.82h-1.5 M180.8,340.82h-1.5 M180.8,337.81h-2.2 M180.8,334.81h-1.5 M180.8,331.81h-1.5 M180.8,328.81h-1.5 M180.8,325.8h-1.5 M180.8,322.8h-2.2 M33.6,427.9v-2.2 M38.51,427.9v-1.5 M43.41,427.9v-1.5 M48.32,427.9v-1.5 M53.23,427.9v-1.5 M58.13,427.9v-2.2 M63.04,427.9v-1.5 M67.95,427.9v-1.5 M72.85,427.9v-1.5 M77.76,427.9v-1.5 M82.67,427.9v-2.2 M87.57,427.9v-1.5 M92.48,427.9v-1.5 M97.39,427.9v-1.5 M102.29,427.9v-1.5 M107.2,427.9v-2.2 M112.11,427.9v-1.5 M117.01,427.9v-1.5 M121.92,427.9v-1.5 M126.83,427.9v-1.5 M131.73,427.9v-2.2 M136.64,427.9v-1.5 M141.55,427.9v-1.5 M146.45,427.9v-1.5 M151.36,427.9v-1.5 M156.27,427.9v-2.2 M161.17,427.9v-1.5 M166.08,427.9v-1.5 M170.99,427.9v-1.5 M175.89,427.9v-1.5 M180.8,427.9v-2.2" stroke="#000" stroke-width="1.0" fill="none"/>
<path d="M33.6,322.8H180.8" stroke="#999" stroke-width="1" fill="none"/>
<path d="M33.6,322.8V427.9H180.8V322.8" stroke="#000" stroke-width="1.1" fill="none"/>
<text transform="translate(25.4,430.8) scale(1,1.0)" text-anchor="end" style="font-family:'Liberation Serif',serif;font-weight:bold;font-size:7.6px;stroke:#000;stroke-width:0.12px">160</text>
<text transform="translate(25.4,417.66) scale(1,1.0)" text-anchor="end" style="font-family:'Liberation Serif',serif;font-weight:bold;font-size:7.6px;stroke:#000;stroke-width:0.12px">165</text>
<text transform="translate(25.4,404.52) scale(1,1.0)" text-anchor="end" style="font-family:'Liberation Serif',serif;font-weight:bold;font-size:7.6px;stroke:#000;stroke-width:0.12px">170</text>
<text transform="translate(25.4,391.39) scale(1,1.0)" text-anchor="end" style="font-family:'Liberation Serif',serif;font-weight:bold;font-size:7.6px;stroke:#000;stroke-width:0.12px">175</text>
<text transform="translate(25.4,378.25) scale(1,1.0)" text-anchor="end" style="font-family:'Liberation Serif',serif;font-weight:bold;font-size:7.6px;stroke:#000;stroke-width:0.12px">180</text>
<text transform="translate(25.4,365.11) scale(1,1.0)" text-anchor="end" style="font-family:'Liberation Serif',serif;font-weight:bold;font-size:7.6px;stroke:#000;stroke-width:0.12px">185</text>
<text transform="translate(25.4,351.97) scale(1,1.0)" text-anchor="end" style="font-family:'Liberation Serif',serif;font-weight:bold;font-size:7.6px;stroke:#000;stroke-width:0.12px">190</text>
<text transform="translate(25.4,338.84) scale(1,1.0)" text-anchor="end" style="font-family:'Liberation Serif',serif;font-weight:bold;font-size:7.6px;stroke:#000;stroke-width:0.12px">195</text>
<text transform="translate(25.4,325.7) scale(1,1.0)" text-anchor="end" style="font-family:'Liberation Serif',serif;font-weight:bold;font-size:7.6px;stroke:#000;stroke-width:0.12px">200</text>
<text transform="translate(187.3,430.8) scale(1,1.0)" text-anchor="start" style="font-family:'Liberation Serif',serif;font-weight:bold;font-size:7.6px;stroke:#000;stroke-width:0.12px">280</text>
<text transform="translate(187.3,415.79) scale(1,1.0)" text-anchor="start" style="font-family:'Liberation Serif',serif;font-weight:bold;font-size:7.6px;stroke:#000;stroke-width:0.12px">290</text>
<text transform="translate(187.3,400.77) scale(1,1.0)" text-anchor="start" style="font-family:'Liberation Serif',serif;font-weight:bold;font-size:7.6px;stroke:#000;stroke-width:0.12px">300</text>
<text transform="translate(187.3,385.76) scale(1,1.0)" text-anchor="start" style="font-family:'Liberation Serif',serif;font-weight:bold;font-size:7.6px;stroke:#000;stroke-width:0.12px">310</text>
<text transform="translate(187.3,370.74) scale(1,1.0)" text-anchor="start" style="font-family:'Liberation Serif',serif;font-weight:bold;font-size:7.6px;stroke:#000;stroke-width:0.12px">320</text>
<text transform="translate(187.3,355.73) scale(1,1.0)" text-anchor="start" style="font-family:'Liberation Serif',serif;font-weight:bold;font-size:7.6px;stroke:#000;stroke-width:0.12px">330</text>
<text transform="translate(187.3,340.71) scale(1,1.0)" text-anchor="start" style="font-family:'Liberation Serif',serif;font-weight:bold;font-size:7.6px;stroke:#000;stroke-width:0.12px">340</text>
<text transform="translate(187.3,325.7) scale(1,1.0)" text-anchor="start" style="font-family:'Liberation Serif',serif;font-weight:bold;font-size:7.6px;stroke:#000;stroke-width:0.12px">350</text>
<text transform="translate(33.6,439.6) scale(1,1.0)" text-anchor="middle" style="font-family:'Liberation Serif',serif;font-weight:bold;font-size:7.6px;stroke:#000;stroke-width:0.12px">3</text>
<text transform="translate(58.13,439.6) scale(1,1.0)" text-anchor="middle" style="font-family:'Liberation Serif',serif;font-weight:bold;font-size:7.6px;stroke:#000;stroke-width:0.12px">4</text>
<text transform="translate(82.67,439.6) scale(1,1.0)" text-anchor="middle" style="font-family:'Liberation Serif',serif;font-weight:bold;font-size:7.6px;stroke:#000;stroke-width:0.12px">5</text>
<text transform="translate(107.2,439.6) scale(1,1.0)" text-anchor="middle" style="font-family:'Liberation Serif',serif;font-weight:bold;font-size:7.6px;stroke:#000;stroke-width:0.12px">6</text>
<text transform="translate(131.73,439.6) scale(1,1.0)" text-anchor="middle" style="font-family:'Liberation Serif',serif;font-weight:bold;font-size:7.6px;stroke:#000;stroke-width:0.12px">7</text>
<text transform="translate(156.27,439.6) scale(1,1.0)" text-anchor="middle" style="font-family:'Liberation Serif',serif;font-weight:bold;font-size:7.6px;stroke:#000;stroke-width:0.12px">8</text>
<text transform="translate(180.8,439.6) scale(1,1.0)" text-anchor="middle" style="font-family:'Liberation Serif',serif;font-weight:bold;font-size:7.6px;stroke:#000;stroke-width:0.12px">9</text>
<text transform="translate(6.97,375) rotate(-90)" text-anchor="middle" style="font-family:'Liberation Serif',serif;font-weight:bold;font-size:8.5px;stroke:#000;stroke-width:0.12px">Displacement output (&#956;m)</text>
<text transform="translate(213.93,374.85) rotate(-90)" text-anchor="middle" style="font-family:'Liberation Serif',serif;font-weight:bold;font-size:8.56px;stroke:#000;stroke-width:0.12px">Maximum srtess (MPa)</text>
<text x="103.4" y="450.3" text-anchor="middle" style="font-family:'Liberation Serif',serif;font-weight:bold;font-size:8.3px;stroke:#000;stroke-width:0.12px">D (mm)</text>
<text x="103.5" y="466.45" text-anchor="middle" style="font-family:'Liberation Serif',serif;font-size:13.2px"><tspan>(</tspan><tspan style="font-style:italic">e</tspan><tspan dx="0.6">)</tspan></text>
<path d="M58.13,413 C62.22,409.52 74.49,400.63 82.67,392.1 C90.84,383.57 99.02,370.35 107.2,361.8 C115.38,353.25 123.56,345.77 131.73,340.8 C139.91,335.83 152.18,333.47 156.27,332" stroke="#0e0c64" stroke-width="1.0" fill="none"/>
<path d="M58.13,371.1 C62.22,367.15 74.49,353.5 82.67,347.4 C90.84,341.3 99.02,337.07 107.2,334.5 C115.38,331.93 123.56,332.93 131.73,332 C139.91,331.07 152.18,329.42 156.27,328.9" stroke="#b0001e" stroke-width="1.0" fill="none"/>
<rect x="56.23" y="411.1" width="3.8" height="3.8" fill="#0e0c64"/>
<rect x="80.77" y="390.2" width="3.8" height="3.8" fill="#0e0c64"/>
<rect x="105.3" y="359.9" width="3.8" height="3.8" fill="#0e0c64"/>
<rect x="129.83" y="338.9" width="3.8" height="3.8" fill="#0e0c64"/>
<rect x="154.37" y="330.1" width="3.8" height="3.8" fill="#0e0c64"/>
<path d="M58.13,369 L60.23,371.1 L58.13,373.2 L56.03,371.1 Z" fill="#b0001e"/>
<path d="M82.67,345.3 L84.77,347.4 L82.67,349.5 L80.57,347.4 Z" fill="#b0001e"/>
<path d="M107.2,332.4 L109.3,334.5 L107.2,336.6 L105.1,334.5 Z" fill="#b0001e"/>
<path d="M131.73,329.9 L133.83,332 L131.73,334.1 L129.63,332 Z" fill="#b0001e"/>
<path d="M156.27,326.8 L158.37,328.9 L156.27,331 L154.17,328.9 Z" fill="#b0001e"/>
<path d="M73.3,407.3h9.6" stroke="#b0001e" stroke-width="1.0"/>
<path d="M78.1,405.5 L79.9,407.3 L78.1,409.1 L76.3,407.3 Z" fill="#b0001e"/>
<path d="M73.3,415.9h9.6" stroke="#0e0c64" stroke-width="1.0"/>
<rect x="76.5" y="414.3" width="3.2" height="3.2" fill="#0e0c64"/>
<text x="83.6" y="409.6" style="font-family:'Liberation Serif',serif;font-weight:bold;font-size:6.69px;stroke:#000;stroke-width:0.12px">Displacement output</text>
<text x="83.6" y="418.2" style="font-family:'Liberation Serif',serif;font-weight:bold;font-size:6.69px;stroke:#000;stroke-width:0.12px">Maximum stress</text>
<path d="M262.4,426.1h2.2 M262.4,424.02h1.5 M262.4,421.94h1.5 M262.4,419.86h1.5 M262.4,417.78h1.5 M262.4,415.7h2.2 M262.4,413.62h1.5 M262.4,411.54h1.5 M262.4,409.46h1.5 M262.4,407.38h1.5 M262.4,405.3h2.2 M262.4,403.22h1.5 M262.4,401.14h1.5 M262.4,399.06h1.5 M262.4,396.98h1.5 M262.4,394.9h2.2 M262.4,392.82h1.5 M262.4,390.74h1.5 M262.4,388.66h1.5 M262.4,386.58h1.5 M262.4,384.5h2.2 M262.4,382.42h1.5 M262.4,380.34h1.5 M262.4,378.26h1.5 M262.4,376.18h1.5 M262.4,374.1h2.2 M262.4,372.02h1.5 M262.4,369.94h1.5 M262.4,367.86h1.5 M262.4,365.78h1.5 M262.4,363.7h2.2 M262.4,361.62h1.5 M262.4,359.54h1.5 M262.4,357.46h1.5 M262.4,355.38h1.5 M262.4,353.3h2.2 M262.4,351.22h1.5 M262.4,349.14h1.5 M262.4,347.06h1.5 M262.4,344.98h1.5 M262.4,342.9h2.2 M262.4,340.82h1.5 M262.4,338.74h1.5 M262.4,336.66h1.5 M262.4,334.58h1.5 M262.4,332.5h2.2 M262.4,330.42h1.5 M262.4,328.34h1.5 M262.4,326.26h1.5 M262.4,324.18h1.5 M262.4,322.1h2.2 M408.8,426.1h-2.2 M408.8,424.02h-1.5 M408.8,421.94h-1.5 M408.8,419.86h-1.5 M408.8,417.78h-1.5 M408.8,415.7h-2.2 M408.8,413.62h-1.5 M408.8,411.54h-1.5 M408.8,409.46h-1.5 M408.8,407.38h-1.5 M408.8,405.3h-2.2 M408.8,403.22h-1.5 M408.8,401.14h-1.5 M408.8,399.06h-1.5 M408.8,396.98h-1.5 M408.8,394.9h-2.2 M408.8,392.82h-1.5 M408.8,390.74h-1.5 M408.8,388.66h-1.5 M408.8,386.58h-1.5 M408.8,384.5h-2.2 M408.8,382.42h-1.5 M408.8,380.34h-1.5 M408.8,378.26h-1.5 M408.8,376.18h-1.5 M408.8,374.1h-2.2 M408.8,372.02h-1.5 M408.8,369.94h-1.5 M408.8,367.86h-1.5 M408.8,365.78h-1.5 M408.8,363.7h-2.2 M408.8,361.62h-1.5 M408.8,359.54h-1.5 M408.8,357.46h-1.5 M408.8,355.38h-1.5 M408.8,353.3h-2.2 M408.8,351.22h-1.5 M408.8,349.14h-1.5 M408.8,347.06h-1.5 M408.8,344.98h-1.5 M408.8,342.9h-2.2 M408.8,340.82h-1.5 M408.8,338.74h-1.5 M408.8,336.66h-1.5 M408.8,334.58h-1.5 M408.8,332.5h-2.2 M408.8,330.42h-1.5 M408.8,328.34h-1.5 M408.8,326.26h-1.5 M408.8,324.18h-1.5 M408.8,322.1h-2.2 M262.4,426.1v-2.2 M269.72,426.1v-1.5 M277.04,426.1v-1.5 M284.36,426.1v-1.5 M291.68,426.1v-1.5 M299,426.1v-2.2 M306.32,426.1v-1.5 M313.64,426.1v-1.5 M320.96,426.1v-1.5 M328.28,426.1v-1.5 M335.6,426.1v-2.2 M342.92,426.1v-1.5 M350.24,426.1v-1.5 M357.56,426.1v-1.5 M364.88,426.1v-1.5 M372.2,426.1v-2.2 M379.52,426.1v-1.5 M386.84,426.1v-1.5 M394.16,426.1v-1.5 M401.48,426.1v-1.5 M408.8,426.1v-2.2" stroke="#000" stroke-width="1.0" fill="none"/>
<path d="M262.4,322.1H408.8" stroke="#999" stroke-width="1" fill="none"/>
<path d="M262.4,322.1V426.1H408.8V322.1" stroke="#000" stroke-width="1.1" fill="none"/>
<text transform="translate(255.9,429.1) scale(1,1.0)" text-anchor="end" style="font-family:'Liberation Serif',serif;font-weight:bold;font-size:7.5px;stroke:#000;stroke-width:0.12px">150</text>
<text transform="translate(255.9,418.7) scale(1,1.0)" text-anchor="end" style="font-family:'Liberation Serif',serif;font-weight:bold;font-size:7.5px;stroke:#000;stroke-width:0.12px">155</text>
<text transform="translate(255.9,408.3) scale(1,1.0)" text-anchor="end" style="font-family:'Liberation Serif',serif;font-weight:bold;font-size:7.5px;stroke:#000;stroke-width:0.12px">160</text>
<text transform="translate(255.9,397.9) scale(1,1.0)" text-anchor="end" style="font-family:'Liberation Serif',serif;font-weight:bold;font-size:7.5px;stroke:#000;stroke-width:0.12px">165</text>
<text transform="translate(255.9,387.5) scale(1,1.0)" text-anchor="end" style="font-family:'Liberation Serif',serif;font-weight:bold;font-size:7.5px;stroke:#000;stroke-width:0.12px">170</text>
<text transform="translate(255.9,377.1) scale(1,1.0)" text-anchor="end" style="font-family:'Liberation Serif',serif;font-weight:bold;font-size:7.5px;stroke:#000;stroke-width:0.12px">175</text>
<text transform="translate(255.9,366.7) scale(1,1.0)" text-anchor="end" style="font-family:'Liberation Serif',serif;font-weight:bold;font-size:7.5px;stroke:#000;stroke-width:0.12px">180</text>
<text transform="translate(255.9,356.3) scale(1,1.0)" text-anchor="end" style="font-family:'Liberation Serif',serif;font-weight:bold;font-size:7.5px;stroke:#000;stroke-width:0.12px">185</text>
<text transform="translate(255.9,345.9) scale(1,1.0)" text-anchor="end" style="font-family:'Liberation Serif',serif;font-weight:bold;font-size:7.5px;stroke:#000;stroke-width:0.12px">190</text>
<text transform="translate(255.9,335.5) scale(1,1.0)" text-anchor="end" style="font-family:'Liberation Serif',serif;font-weight:bold;font-size:7.5px;stroke:#000;stroke-width:0.12px">195</text>
<text transform="translate(255.9,325.1) scale(1,1.0)" text-anchor="end" style="font-family:'Liberation Serif',serif;font-weight:bold;font-size:7.5px;stroke:#000;stroke-width:0.12px">200</text>
<text transform="translate(414.9,429.1) scale(1,1.0)" text-anchor="start" style="font-family:'Liberation Serif',serif;font-weight:bold;font-size:7.5px;stroke:#000;stroke-width:0.12px">250</text>
<text transform="translate(414.9,418.7) scale(1,1.0)" text-anchor="start" style="font-family:'Liberation Serif',serif;font-weight:bold;font-size:7.5px;stroke:#000;stroke-width:0.12px">270</text>
<text transform="translate(414.9,408.3) scale(1,1.0)" text-anchor="start" style="font-family:'Liberation Serif',serif;font-weight:bold;font-size:7.5px;stroke:#000;stroke-width:0.12px">290</text>
<text transform="translate(414.9,397.9) scale(1,1.0)" text-anchor="start" style="font-family:'Liberation Serif',serif;font-weight:bold;font-size:7.5px;stroke:#000;stroke-width:0.12px">310</text>
<text transform="translate(414.9,387.5) scale(1,1.0)" text-anchor="start" style="font-family:'Liberation Serif',serif;font-weight:bold;font-size:7.5px;stroke:#000;stroke-width:0.12px">330</text>
<text transform="translate(414.9,377.1) scale(1,1.0)" text-anchor="start" style="font-family:'Liberation Serif',serif;font-weight:bold;font-size:7.5px;stroke:#000;stroke-width:0.12px">350</text>
<text transform="translate(414.9,366.7) scale(1,1.0)" text-anchor="start" style="font-family:'Liberation Serif',serif;font-weight:bold;font-size:7.5px;stroke:#000;stroke-width:0.12px">370</text>
<text transform="translate(414.9,356.3) scale(1,1.0)" text-anchor="start" style="font-family:'Liberation Serif',serif;font-weight:bold;font-size:7.5px;stroke:#000;stroke-width:0.12px">390</text>
<text transform="translate(414.9,345.9) scale(1,1.0)" text-anchor="start" style="font-family:'Liberation Serif',serif;font-weight:bold;font-size:7.5px;stroke:#000;stroke-width:0.12px">410</text>
<text transform="translate(414.9,335.5) scale(1,1.0)" text-anchor="start" style="font-family:'Liberation Serif',serif;font-weight:bold;font-size:7.5px;stroke:#000;stroke-width:0.12px">430</text>
<text transform="translate(414.9,325.1) scale(1,1.0)" text-anchor="start" style="font-family:'Liberation Serif',serif;font-weight:bold;font-size:7.5px;stroke:#000;stroke-width:0.12px">450</text>
<text transform="translate(262.4,438.1) scale(1,1.0)" text-anchor="middle" style="font-family:'Liberation Serif',serif;font-weight:bold;font-size:7.5px;stroke:#000;stroke-width:0.12px">0</text>
<text transform="translate(299,438.1) scale(1,1.0)" text-anchor="middle" style="font-family:'Liberation Serif',serif;font-weight:bold;font-size:7.5px;stroke:#000;stroke-width:0.12px">500</text>
<text transform="translate(335.6,438.1) scale(1,1.0)" text-anchor="middle" style="font-family:'Liberation Serif',serif;font-weight:bold;font-size:7.5px;stroke:#000;stroke-width:0.12px">1000</text>
<text transform="translate(372.2,438.1) scale(1,1.0)" text-anchor="middle" style="font-family:'Liberation Serif',serif;font-weight:bold;font-size:7.5px;stroke:#000;stroke-width:0.12px">1500</text>
<text transform="translate(408.8,438.1) scale(1,1.0)" text-anchor="middle" style="font-family:'Liberation Serif',serif;font-weight:bold;font-size:7.5px;stroke:#000;stroke-width:0.12px">2000</text>
<text transform="translate(236.65,378.05) rotate(-90)" text-anchor="middle" style="font-family:'Liberation Serif',serif;font-weight:bold;font-size:8.38px;stroke:#000;stroke-width:0.12px">Displacement output (&#956;m)</text>
<text transform="translate(441.05,376) rotate(-90)" text-anchor="middle" style="font-family:'Liberation Serif',serif;font-weight:bold;font-size:8.4px;stroke:#000;stroke-width:0.12px">Maximum stress (MPa)</text>
<text x="335.1" y="448.9" text-anchor="middle" style="font-family:'Liberation Serif',serif;font-weight:bold;font-size:7.4px;stroke:#000;stroke-width:0.12px">P (N)</text>
<text x="333.9" y="466.75" text-anchor="middle" style="font-family:'Liberation Serif',serif;font-size:13.2px"><tspan>(</tspan><tspan style="font-style:italic">f</tspan><tspan dx="0.6">)</tspan></text>
<path d="M262.4,415.8 L269.72,412.2 L277.04,408.61 L284.36,405.01 L291.68,401.42 L299,397.82 L306.32,394.23 L313.64,390.63 L320.96,387.04 L328.28,383.44 L335.6,379.85 L342.92,376.25 L350.24,372.66 L357.56,369.06 L364.88,365.47 L372.2,361.88 L379.52,358.28 L386.84,354.69 L394.16,351.09 L401.48,347.5 L408.8,343.9" stroke="#0e0c64" stroke-width="1.0" fill="none" stroke-linejoin="round"/>
<path d="M262.4,356.9 L269.72,357.46 L277.04,358 L284.36,358.52 L291.68,359.02 L299,359.5 L306.32,359.96 L313.64,360.4 L320.96,360.82 L328.28,361.22 L335.6,361.6 L342.92,361.96 L350.24,362.3 L357.56,362.62 L364.88,362.92 L372.2,363.2 L379.52,363.46 L386.84,363.7 L394.16,363.92 L401.48,364.12 L408.8,364.3" stroke="#b0001e" stroke-width="1.0" fill="none" stroke-linejoin="round"/>
<rect x="260.5" y="413.9" width="3.8" height="3.8" fill="#0e0c64"/>
<rect x="267.82" y="410.31" width="3.8" height="3.8" fill="#0e0c64"/>
<rect x="275.14" y="406.71" width="3.8" height="3.8" fill="#0e0c64"/>
<rect x="282.46" y="403.12" width="3.8" height="3.8" fill="#0e0c64"/>
<rect x="289.78" y="399.52" width="3.8" height="3.8" fill="#0e0c64"/>
<rect x="297.1" y="395.93" width="3.8" height="3.8" fill="#0e0c64"/>
<rect x="304.42" y="392.33" width="3.8" height="3.8" fill="#0e0c64"/>
<rect x="311.74" y="388.74" width="3.8" height="3.8" fill="#0e0c64"/>
<rect x="319.06" y="385.14" width="3.8" height="3.8" fill="#0e0c64"/>
<rect x="326.38" y="381.55" width="3.8" height="3.8" fill="#0e0c64"/>
<rect x="333.7" y="377.95" width="3.8" height="3.8" fill="#0e0c64"/>
<rect x="341.02" y="374.36" width="3.8" height="3.8" fill="#0e0c64"/>
<rect x="348.34" y="370.76" width="3.8" height="3.8" fill="#0e0c64"/>
<rect x="355.66" y="367.17" width="3.8" height="3.8" fill="#0e0c64"/>
<rect x="362.98" y="363.57" width="3.8" height="3.8" fill="#0e0c64"/>
<rect x="370.3" y="359.98" width="3.8" height="3.8" fill="#0e0c64"/>
<rect x="377.62" y="356.38" width="3.8" height="3.8" fill="#0e0c64"/>
<rect x="384.94" y="352.79" width="3.8" height="3.8" fill="#0e0c64"/>
<rect x="392.26" y="349.19" width="3.8" height="3.8" fill="#0e0c64"/>
<rect x="399.58" y="345.6" width="3.8" height="3.8" fill="#0e0c64"/>
<rect x="406.9" y="342" width="3.8" height="3.8" fill="#0e0c64"/>
<path d="M262.4,354.8 L264.5,356.9 L262.4,359 L260.3,356.9 Z" fill="#b0001e"/>
<path d="M269.72,355.36 L271.82,357.46 L269.72,359.56 L267.62,357.46 Z" fill="#b0001e"/>
<path d="M277.04,355.9 L279.14,358 L277.04,360.1 L274.94,358 Z" fill="#b0001e"/>
<path d="M284.36,356.42 L286.46,358.52 L284.36,360.62 L282.26,358.52 Z" fill="#b0001e"/>
<path d="M291.68,356.92 L293.78,359.02 L291.68,361.12 L289.58,359.02 Z" fill="#b0001e"/>
<path d="M299,357.4 L301.1,359.5 L299,361.6 L296.9,359.5 Z" fill="#b0001e"/>
<path d="M306.32,357.86 L308.42,359.96 L306.32,362.06 L304.22,359.96 Z" fill="#b0001e"/>
<path d="M313.64,358.3 L315.74,360.4 L313.64,362.5 L311.54,360.4 Z" fill="#b0001e"/>
<path d="M320.96,358.72 L323.06,360.82 L320.96,362.92 L318.86,360.82 Z" fill="#b0001e"/>
<path d="M328.28,359.12 L330.38,361.22 L328.28,363.32 L326.18,361.22 Z" fill="#b0001e"/>
<path d="M335.6,359.5 L337.7,361.6 L335.6,363.7 L333.5,361.6 Z" fill="#b0001e"/>
<path d="M342.92,359.86 L345.02,361.96 L342.92,364.06 L340.82,361.96 Z" fill="#b0001e"/>
<path d="M350.24,360.2 L352.34,362.3 L350.24,364.4 L348.14,362.3 Z" fill="#b0001e"/>
<path d="M357.56,360.52 L359.66,362.62 L357.56,364.72 L355.46,362.62 Z" fill="#b0001e"/>
<path d="M364.88,360.82 L366.98,362.92 L364.88,365.02 L362.78,362.92 Z" fill="#b0001e"/>
<path d="M372.2,361.1 L374.3,363.2 L372.2,365.3 L370.1,363.2 Z" fill="#b0001e"/>
<path d="M379.52,361.36 L381.62,363.46 L379.52,365.56 L377.42,363.46 Z" fill="#b0001e"/>
<path d="M386.84,361.6 L388.94,363.7 L386.84,365.8 L384.74,363.7 Z" fill="#b0001e"/>
<path d="M394.16,361.82 L396.26,363.92 L394.16,366.02 L392.06,363.92 Z" fill="#b0001e"/>
<path d="M401.48,362.02 L403.58,364.12 L401.48,366.22 L399.38,364.12 Z" fill="#b0001e"/>
<path d="M408.8,362.2 L410.9,364.3 L408.8,366.4 L406.7,364.3 Z" fill="#b0001e"/>
<path d="M301.4,405.7h9.6" stroke="#b0001e" stroke-width="1.0"/>
<path d="M306.2,403.9 L308,405.7 L306.2,407.5 L304.4,405.7 Z" fill="#b0001e"/>
<path d="M301.4,417.4h9.6" stroke="#0e0c64" stroke-width="1.0"/>
<rect x="304.6" y="415.8" width="3.2" height="3.2" fill="#0e0c64"/>
<text x="310.9" y="408" style="font-family:'Liberation Serif',serif;font-weight:bold;font-size:6.6px;stroke:#000;stroke-width:0.12px">Displacement output</text>
<text x="310.9" y="419.7" style="font-family:'Liberation Serif',serif;font-weight:bold;font-size:6.6px;stroke:#000;stroke-width:0.12px">Maximum stress</text>
</g>
</svg></body></html>
